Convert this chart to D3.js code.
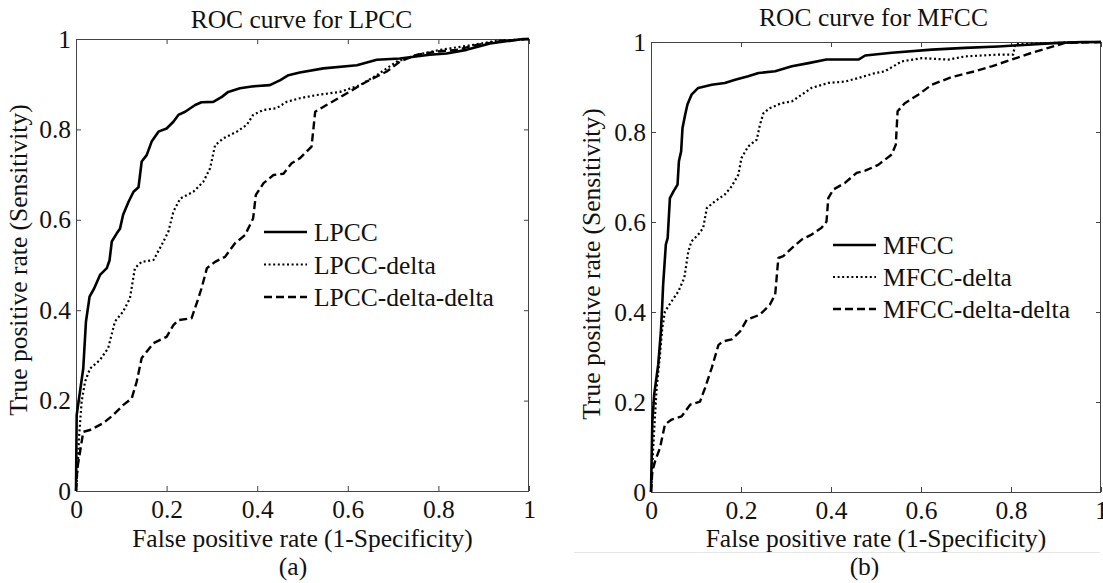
<!DOCTYPE html>
<html><head><meta charset="utf-8">
<script src="https://cdn.jsdelivr.net/npm/d3@7/dist/d3.min.js"></script>
<style>
body{margin:0;background:#fff}
svg text{font-family:"Liberation Serif","Times New Roman",serif;fill:#111}
</style>
</head><body>
<svg id="chart" width="1103" height="583"></svg>
<script>
// ---------- data ----------
const tickValues = [0, 0.2, 0.4, 0.6, 0.8, 1];
const tickLabels = ["0", "0.2", "0.4", "0.6", "0.8", "1"];

const lpccNames = ["LPCC", "LPCC-delta", "LPCC-delta-delta"];
const mfccNames = ["MFCC", "MFCC-delta", "MFCC-delta-delta"];

// [false positive rate, true positive rate]
const lpcc = [[0,0],[0.0015,0.168],[0.016,0.271],[0.022,0.375],[0.03,0.43],[0.04,0.448],[0.053,0.478],[0.068,0.493],[0.074,0.51],[0.079,0.552],[0.09,0.57],[0.097,0.580],[0.104,0.611],[0.116,0.640],[0.127,0.662],[0.138,0.672],[0.145,0.729],[0.156,0.743],[0.167,0.773],[0.182,0.795],[0.200,0.802],[0.215,0.817],[0.226,0.832],[0.241,0.839],[0.263,0.854],[0.277,0.860],[0.303,0.861],[0.322,0.872],[0.336,0.883],[0.362,0.891],[0.388,0.895],[0.428,0.898],[0.451,0.909],[0.469,0.920],[0.494,0.926],[0.546,0.935],[0.620,0.942],[0.664,0.954],[0.715,0.957],[0.781,0.965],[0.818,0.968],[0.862,0.976],[0.914,0.99],[0.987,1],[1,1]];
const lpccDelta = [[0,0],[0.004,0.06],[0.007,0.124],[0.0125,0.198],[0.02,0.242],[0.031,0.271],[0.053,0.290],[0.071,0.316],[0.086,0.375],[0.104,0.397],[0.119,0.426],[0.130,0.493],[0.145,0.507],[0.171,0.511],[0.189,0.544],[0.204,0.574],[0.215,0.618],[0.230,0.647],[0.259,0.662],[0.281,0.684],[0.296,0.714],[0.307,0.765],[0.325,0.780],[0.355,0.795],[0.377,0.810],[0.391,0.832],[0.414,0.843],[0.443,0.847],[0.465,0.861],[0.494,0.869],[0.531,0.876],[0.583,0.883],[0.627,0.898],[0.664,0.920],[0.708,0.950],[0.752,0.965],[0.804,0.976],[0.877,0.987],[0.929,0.996],[1,1]];
const lpccDeltaDelta = [[0,0],[0.003,0.050],[0.0125,0.109],[0.016,0.131],[0.031,0.135],[0.060,0.150],[0.082,0.168],[0.104,0.190],[0.123,0.205],[0.134,0.242],[0.145,0.294],[0.171,0.327],[0.200,0.341],[0.215,0.367],[0.226,0.378],[0.255,0.382],[0.270,0.426],[0.277,0.448],[0.289,0.493],[0.307,0.507],[0.329,0.518],[0.351,0.548],[0.373,0.566],[0.391,0.603],[0.397,0.655],[0.414,0.681],[0.436,0.699],[0.458,0.702],[0.476,0.725],[0.494,0.736],[0.520,0.762],[0.528,0.839],[0.553,0.854],[0.598,0.880],[0.642,0.906],[0.686,0.928],[0.715,0.950],[0.752,0.965],[0.796,0.972],[0.840,0.976],[0.885,0.987],[0.943,0.996],[1,1]];

const mfcc = [[0,0],[0.003,0.157],[0.007,0.216],[0.016,0.283],[0.022,0.357],[0.025,0.416],[0.027,0.461],[0.033,0.550],[0.037,0.564],[0.042,0.653],[0.050,0.668],[0.059,0.683],[0.062,0.735],[0.067,0.757],[0.070,0.809],[0.076,0.839],[0.081,0.861],[0.090,0.883],[0.105,0.898],[0.135,0.905],[0.164,0.909],[0.187,0.916],[0.216,0.924],[0.239,0.931],[0.276,0.935],[0.313,0.946],[0.350,0.953],[0.390,0.961],[0.461,0.961],[0.476,0.970],[0.535,0.976],[0.624,0.983],[0.698,0.987],[0.772,0.990],[0.838,0.994],[0.905,0.998],[0.96,1],[1,1]];
const mfccDelta = [[0,0],[0.006,0.12],[0.0126,0.231],[0.020,0.305],[0.025,0.364],[0.031,0.401],[0.046,0.424],[0.061,0.446],[0.074,0.476],[0.083,0.535],[0.090,0.557],[0.105,0.572],[0.116,0.587],[0.124,0.631],[0.142,0.646],[0.164,0.661],[0.179,0.679],[0.194,0.705],[0.201,0.742],[0.216,0.768],[0.235,0.783],[0.242,0.816],[0.250,0.842],[0.264,0.853],[0.290,0.864],[0.313,0.868],[0.335,0.883],[0.357,0.898],[0.394,0.909],[0.431,0.912],[0.461,0.920],[0.498,0.931],[0.520,0.935],[0.557,0.957],[0.602,0.964],[0.661,0.961],[0.698,0.968],[0.772,0.972],[0.805,0.972],[0.809,0.995],[0.890,0.998],[1,1]];
const mfccDeltaDelta = [[0,0],[0.003,0.046],[0.009,0.068],[0.020,0.098],[0.031,0.150],[0.046,0.161],[0.068,0.168],[0.087,0.194],[0.109,0.201],[0.120,0.231],[0.135,0.276],[0.150,0.327],[0.161,0.335],[0.179,0.339],[0.198,0.357],[0.213,0.383],[0.242,0.394],[0.264,0.416],[0.276,0.439],[0.283,0.520],[0.294,0.524],[0.313,0.542],[0.335,0.561],[0.357,0.572],[0.379,0.587],[0.390,0.601],[0.394,0.653],[0.405,0.672],[0.431,0.687],[0.457,0.709],[0.476,0.714],[0.505,0.727],[0.535,0.750],[0.544,0.772],[0.548,0.846],[0.564,0.864],[0.594,0.883],[0.624,0.905],[0.668,0.922],[0.72,0.935],[0.757,0.946],[0.802,0.961],[0.846,0.976],[0.883,0.987],[0.92,0.998],[1,1]];

// ---------- layout / style ----------
const FONT = 25.5;
const SERIF = '"Liberation Serif", "Times New Roman", serif';
const dashes = [null, "2,2.6", "8,4"];
const widths = [2.6, 2.2, 2.4];

const panels = [
  {title:"ROC curve for LPCC", tag:"(a)", names:lpccNames, series:[lpcc, lpccDelta, lpccDeltaDelta],
   left:76, right:529, top:39, bottom:491, titleX:301.5, titleY:28, tagX:293, ylabX:27, ylabY:260,
   legX:264, legY:232, legStep:32.5},
  {title:"ROC curve for MFCC", tag:"(b)", names:mfccNames, series:[mfcc, mfccDelta, mfccDeltaDelta],
   left:651, right:1101, top:42, bottom:492, titleX:873.5, titleY:26, tagX:864.5, ylabX:600, ylabY:264,
   legX:833, legY:245, legStep:32}
];

const svg = d3.select("#chart");

// faint separator line in the right panel
svg.append("line").attr("x1",574).attr("x2",1100).attr("y1",552.5).attr("y2",552.5)
  .attr("stroke","#e6e6e6").attr("stroke-width",1);

function txt(sel){ return sel.attr("font-size",FONT).style("font-family",SERIF).attr("fill","#111"); }

panels.forEach(p => {
  const x = d3.scaleLinear().domain([0,1]).range([p.left, p.right]);
  const y = d3.scaleLinear().domain([0,1]).range([p.bottom, p.top]);
  const g = svg.append("g");

  const fmt = (d,i) => tickLabels[i];
  const bottomAx = g.append("g").attr("transform",`translate(0,${p.bottom})`)
    .call(d3.axisBottom(x).tickValues(tickValues).tickFormat(fmt).tickSizeInner(-5).tickSizeOuter(0).tickPadding(9));
  const leftAx = g.append("g").attr("transform",`translate(${p.left},0)`)
    .call(d3.axisLeft(y).tickValues(tickValues).tickFormat(fmt).tickSizeInner(-5).tickSizeOuter(0).tickPadding(5));
  const topAx = g.append("g").attr("transform",`translate(0,${p.top})`)
    .call(d3.axisTop(x).tickValues(tickValues).tickFormat("").tickSizeInner(-5).tickSizeOuter(0));
  const rightAx = g.append("g").attr("transform",`translate(${p.right},0)`)
    .call(d3.axisRight(y).tickValues(tickValues).tickFormat("").tickSizeInner(-5).tickSizeOuter(0));
  [topAx,rightAx].forEach(a => a.selectAll(".tick text").remove());
  [bottomAx,leftAx,topAx,rightAx].forEach(a => {
    a.attr("font-family",null).attr("font-size",null);
    a.select(".domain").remove();
    a.selectAll(".tick line").attr("stroke","#444");
    txt(a.selectAll("text"));
  });
  bottomAx.selectAll("text").attr("dy","0.71em");

  g.append("rect").attr("x",p.left+0.5).attr("y",p.top+0.5)
    .attr("width",p.right-p.left-1).attr("height",p.bottom-p.top)
    .attr("fill","none").attr("stroke","#444").attr("stroke-width",1);

  const line = d3.line().x(d => x(d[0])).y(d => y(d[1]));
  p.series.forEach((s,i) => {
    g.append("path").datum(s).attr("d",line)
      .attr("fill","none").attr("stroke","#000").attr("stroke-width",widths[i])
      .attr("stroke-linejoin","round")
      .attr("stroke-dasharray",dashes[i]);
  });

  p.names.forEach((n,i) => {
    const ly = p.legY + i*p.legStep;
    g.append("line").attr("x1",p.legX).attr("x2",p.legX+43).attr("y1",ly).attr("y2",ly)
      .attr("stroke","#000").attr("stroke-width",widths[i]).attr("stroke-dasharray",dashes[i]);
    txt(g.append("text").attr("x",p.legX+50).attr("y",ly+9)).text(n);
  });

  txt(g.append("text").attr("x",p.titleX).attr("y",p.titleY).attr("text-anchor","middle")).text(p.title);
  txt(g.append("text").attr("x",(p.left+p.right)/2).attr("y",547).attr("text-anchor","middle"))
    .text("False positive rate (1-Specificity)");
  txt(g.append("text").attr("transform",`translate(${p.ylabX},${p.ylabY}) rotate(-90)`)
    .attr("text-anchor","middle")).text("True positive rate (Sensitivity)");
  txt(g.append("text").attr("x",p.tagX).attr("y",575).attr("text-anchor","middle")).text(p.tag);
});
</script>
</body></html>
